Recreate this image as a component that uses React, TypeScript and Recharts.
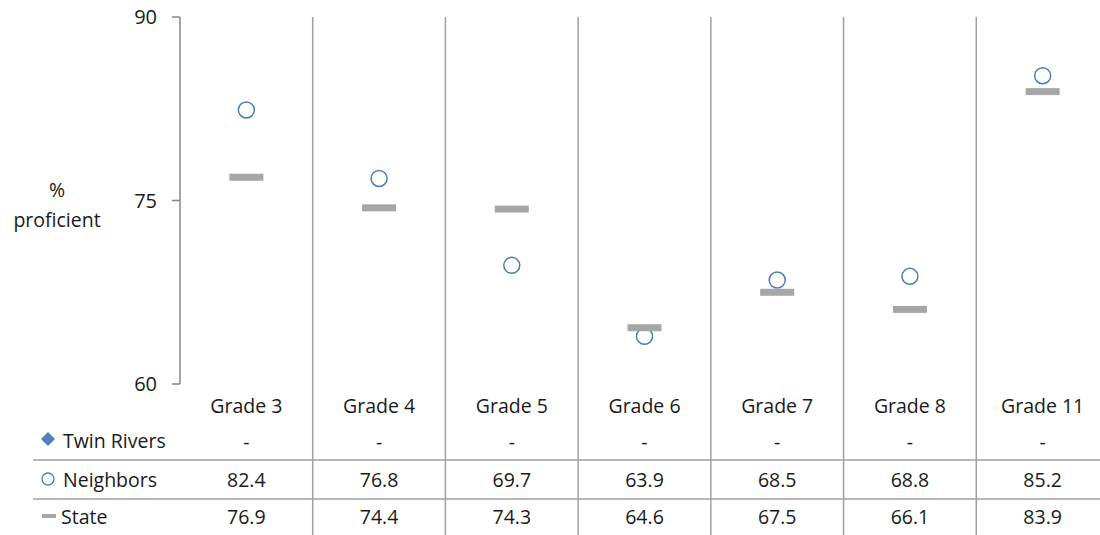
import React from 'react';
import { ComposedChart, Scatter, XAxis, YAxis, Customized } from 'recharts';

const grades = ['Grade 3', 'Grade 4', 'Grade 5', 'Grade 6', 'Grade 7', 'Grade 8', 'Grade 11'];
const twinRivers: (number | null)[] = [null, null, null, null, null, null, null];
const neighbors = [82.4, 76.8, 69.7, 63.9, 68.5, 68.8, 85.2];
const state = [76.9, 74.4, 74.3, 64.6, 67.5, 66.1, 83.9];
const yTicks = [60, 75, 90];
const seriesNames = ['Twin Rivers', 'Neighbors', 'State'];

const data = grades.map((g, i) => ({
  grade: g,
  pos: i + 0.5,
  twinRivers: twinRivers[i],
  neighbors: neighbors[i],
  state: state[i],
}));

// category boundaries, 0..7
const bounds = grades.map((_, i) => i).concat(grades.length);

const W = 1110;
const H = 535;
const TOP = 17;
const BOTTOM = 384;
const FONT = '"Open Sans", sans-serif';
const TEXT = '#1a1a1a';
const LINE = '#a0a0a0';
const BLUE = '#4a7ebb';
const GRAY = '#a6a6a6';

const fmt = (v: number | null) => (v == null ? '-' : v.toFixed(1));

function GradeTick(props: any) {
  const { x, y, payload } = props;
  const i = payload.index;
  const rows = [fmt(twinRivers[i]), fmt(neighbors[i]), fmt(state[i])];
  const offs = [57, 95, 132];
  return (
    <g fontFamily={FONT} fontSize={19.5} fill={TEXT} textAnchor="middle">
      <text x={x} y={y + 21} dominantBaseline="central">{grades[i]}</text>
      {rows.map((r, k) => (
        <text key={k} x={x} y={y + offs[k]} dominantBaseline="central">{r}</text>
      ))}
    </g>
  );
}

function GridTick(props: any) {
  const { x, payload } = props;
  // the left boundary is the y axis itself
  if (payload.value === 0) return <g />;
  return <line x1={x} x2={x} y1={TOP} y2={H} stroke={LINE} strokeWidth={1.5} />;
}

function CircleShape(props: any) {
  const { cx, cy } = props;
  return <circle cx={cx} cy={cy} r={8} fill="#fff" stroke={BLUE} strokeWidth={1.5} />;
}

function DashShape(props: any) {
  const { cx, cy } = props;
  return <rect x={cx - 17} y={cy - 3.5} width={34} height={7} fill={GRAY} />;
}

function TableLeft() {
  const rowY = [440, 479, 516];
  return (
    <g fontFamily={FONT} fontSize={19.5} fill={TEXT}>
      <text x={57} y={189} textAnchor="middle" dominantBaseline="central">%</text>
      <text x={57} y={219} textAnchor="middle" dominantBaseline="central">proficient</text>
      <line x1={33} x2={W} y1={460} y2={460} stroke={LINE} strokeWidth={1.5} />
      <line x1={33} x2={W} y1={499} y2={499} stroke={LINE} strokeWidth={1.5} />
      <polygon points="48,432 55,439 48,446 41,439" fill="#4f81bd" />
      <circle cx={48} cy={479} r={6} fill="#fff" stroke={BLUE} strokeWidth={1.3} />
      <rect x={42} y={514} width={14} height={4} fill={GRAY} />
      {seriesNames.map((n, k) => (
        <text key={n} x={k === 2 ? 61 : 63} y={rowY[k]} dominantBaseline="central">{n}</text>
      ))}
    </g>
  );
}

export default function App() {
  return (
    <div style={{ position: 'absolute', left: 0, top: 0, width: 1100, height: 535, overflow: 'hidden', background: '#fff' }}>
      <ComposedChart width={W} height={H} data={data} margin={{ top: TOP - 1, right: 1, bottom: 0, left: 0 }}>
        <XAxis
          xAxisId="grid"
          orientation="top"
          dataKey="pos"
          type="number"
          domain={[0, grades.length]}
          allowDataOverflow
          ticks={bounds}
          height={1}
          interval={0}
          axisLine={false}
          tickLine={false}
          tick={<GridTick />}
        />
        <XAxis
          xAxisId="cat"
          dataKey="pos"
          type="number"
          domain={[0, grades.length]}
          allowDataOverflow
          ticks={data.map(d => d.pos)}
          height={H - BOTTOM}
          interval={0}
          axisLine={false}
          tickLine={false}
          tickSize={0}
          tickMargin={0}
          tick={<GradeTick />}
        />
        <YAxis
          type="number"
          domain={[60, 90]}
          ticks={yTicks}
          width={180}
          interval={0}
          axisLine={{ stroke: '#868686', strokeWidth: 1.5 }}
          tickLine={{ stroke: '#868686', strokeWidth: 1.5 }}
          tickSize={8}
          tickMargin={15}
          tick={{ fontFamily: FONT, fontSize: 20, fill: TEXT }}
        />
        <Scatter xAxisId="cat" dataKey="neighbors" shape={<CircleShape />} isAnimationActive={false} />
        <Scatter xAxisId="cat" dataKey="state" shape={<DashShape />} isAnimationActive={false} />
        <Customized component={<TableLeft />} />
      </ComposedChart>
    </div>
  );
}
